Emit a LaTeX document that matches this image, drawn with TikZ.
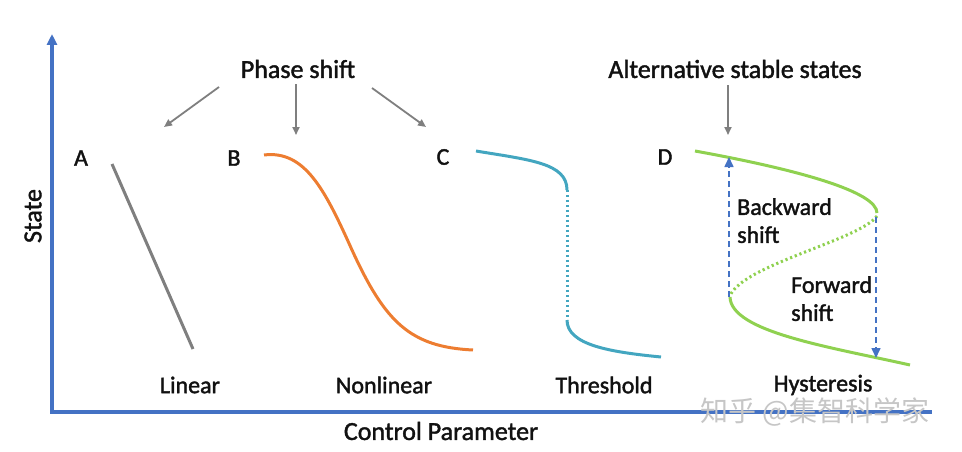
\documentclass[tikz,border=0pt]{standalone}
\usepackage{fontspec}
\setmainfont{Carlito}
\newfontfamily\semib{Carlito}[FakeBold=1.6]
\newfontfamily\cjk{Noto Sans CJK SC}
\usetikzlibrary{arrows.meta}
\definecolor{axisblue}{HTML}{4472C4}
\definecolor{lgray}{HTML}{7F7F7F}
\definecolor{orangeB}{HTML}{ED7D31}
\definecolor{tealC}{HTML}{43A6C0}
\definecolor{greenD}{HTML}{8FD150}
\definecolor{txt}{HTML}{111111}
\tikzset{
  lbl/.style={inner sep=0pt, text=txt, font=\semib\fontsize{26}{28}\selectfont},
  letter/.style={inner sep=0pt, text=txt, font=\semib\fontsize{24}{26}\selectfont},
  cat/.style={inner sep=0pt, text=txt, font=\semib\fontsize{24}{26}\selectfont},
  shiftlbl/.style={inner sep=0pt, text=txt, align=left, font=\semib\fontsize{24}{28}\selectfont},
  pointer/.style={draw=lgray, line width=1.8pt, -{Triangle[length=8pt,width=7pt]}},
  shiftarrow/.style={draw=axisblue, line width=1.6pt, dash pattern=on 6pt off 4pt, -{Triangle[length=10pt,width=9pt]}},
  curve/.style={line width=3pt},
  dotcurve/.style={line width=3pt, dash pattern=on 2.2pt off 2.8pt}
}
\begin{document}
\begin{tikzpicture}[x=1pt,y=-1pt]
\useasboundingbox (0,0) rectangle (962,452);
% axes
\coordinate (origin) at (52,412);
\coordinate (ytip) at (52,34);
\coordinate (xend) at (932,412);
\draw[axisblue, line width=3.6pt, -{Triangle[length=11pt,width=10pt]}] (origin) -- (ytip);
\draw[axisblue, line width=3.6pt] ([xshift=-1.8pt]origin) -- (xend);
\node[lbl] (xlabel) at (441,431) {Control Parameter};
\node[lbl, rotate=90] (ylabel) at (33,216) {State};
% headers
\node[lbl] (phase) at (298,69) {Phase shift};
\node[lbl] (alt) at (735,69) {Alternative stable states};
\coordinate (pa) at (164,127);
\coordinate (pb) at (296,135);
\coordinate (pc) at (426,127);
\coordinate (pd) at (728,135);
\draw[pointer] (219,87) -- (pa);
\draw[pointer] (phase.south -| pb) ++(0,6) -- (pb);
\draw[pointer] (372,88) -- (pc);
\draw[pointer] (alt.south -| pd) ++(0,7) -- (pd);
% letters
\node[letter] (A) at (81,158) {A};
\node[letter] (B) at (234,158) {B};
\node[letter] (C) at (443,157) {C};
\node[letter] (D) at (665,157) {D};
% A linear
\draw[lgray, curve] (112,164) -- (193,349);
% B nonlinear
\draw[orangeB, curve] (264,155) .. controls (305,150) and (325,190) .. (352,250)
  .. controls (385,322) and (410,347) .. (473,350);
% C threshold
\draw[tealC, curve] (476,151) .. controls (530,160) and (567,163) .. (567,190);
\draw[tealC, dotcurve] (567,190) -- (567,320);
\draw[tealC, curve] (567,320) .. controls (567,345) and (610,352) .. (661,357);
% D hysteresis
\draw[greenD, curve] (695,151) .. controls (800,170) and (877,192) .. (877,213);
\draw[greenD, dotcurve] (877,216) .. controls (860,240) and (742,265) .. (730,296);
\draw[greenD, curve] (730,297) .. controls (731,332) and (830,347) .. (910,365);
\coordinate (bstart) at (729,297);
\coordinate (btip) at (729,157);
\coordinate (fstart) at (876,217);
\coordinate (ftip) at (876,358);
\draw[shiftarrow] (bstart) -- (btip);
\draw[shiftarrow] (fstart) -- (ftip);
\node[shiftlbl, anchor=north west] (bw) at (737,198) {Backward\\shift};
\node[shiftlbl, anchor=north west] (fw) at (791,276) {Forward\\shift};
% category labels
\node[cat] (lin) at (190,385) {Linear};
\node[cat] (nonlin) at (384,385) {Nonlinear};
\node[cat] (thr) at (604,385) {Threshold};
\node[cat] (hys) at (823,385) {Hysteresis};
% watermark
\node[inner sep=0pt, text=gray!45, font=\cjk\fontsize{28}{30}\selectfont] (wm) at (815,412) {知乎 @集智科学家};
\end{tikzpicture}
\end{document}
